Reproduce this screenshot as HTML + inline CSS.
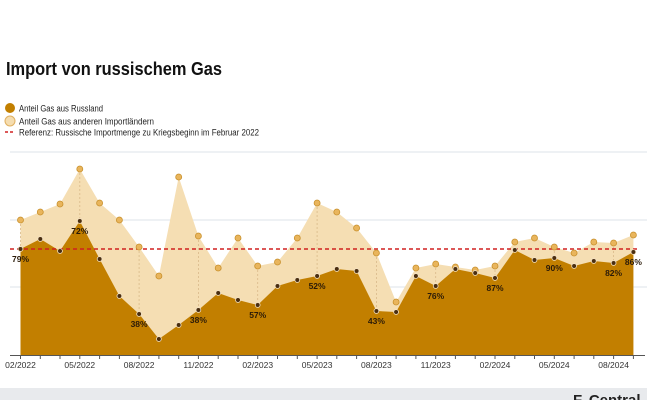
<!DOCTYPE html>
<html><head><meta charset="utf-8"><style>
body{margin:0;width:647px;height:400px;overflow:hidden;background:#fff;font-family:"Liberation Sans",sans-serif;}
</style></head><body>
<svg width="647" height="400" xmlns="http://www.w3.org/2000/svg" style="position:absolute;left:0;top:0">
<text x="6" y="75" font-size="18" font-weight="bold" fill="#111" textLength="216" lengthAdjust="spacingAndGlyphs">Import von russischem Gas</text>
<circle cx="10" cy="108" r="5" fill="#c27f00"/>
<text x="19" y="111.5" font-size="9" fill="#222" textLength="84" lengthAdjust="spacingAndGlyphs">Anteil Gas aus Russland</text>
<circle cx="10" cy="121" r="5" fill="#f5ddb0" stroke="#e0b060" stroke-width="1"/>
<text x="19" y="124.5" font-size="9" fill="#222" textLength="135" lengthAdjust="spacingAndGlyphs">Anteil Gas aus anderen Importländern</text>
<line x1="5" y1="132" x2="15" y2="132" stroke="#d02020" stroke-width="1.5" stroke-dasharray="3,2"/>
<text x="19" y="135.5" font-size="9" fill="#222" textLength="240" lengthAdjust="spacingAndGlyphs">Referenz: Russische Importmenge zu Kriegsbeginn im Februar 2022</text>
<g stroke="#dde3ea" stroke-width="1">
<line x1="10" y1="152" x2="647" y2="152"/><line x1="10" y1="220" x2="647" y2="220"/><line x1="10" y1="287" x2="647" y2="287"/>
</g>
<path fill="#f5deb3" d="M20.5,220 L40.3,212 L60,204 L79.8,169 L99.6,203 L119.4,220 L139.1,247 L158.9,276 L178.7,177 L198.4,236 L218.2,268 L238,238 L257.7,266 L277.5,262 L297.3,238 L317.1,203 L336.8,212 L356.6,228 L376.4,253 L396.1,302 L415.9,268 L435.7,264 L455.4,267 L475.2,270 L495,266 L514.8,242 L534.5,238 L554.3,247 L574.1,253 L593.8,242 L613.6,243 L633.4,235 L633.4,355 L20.5,355Z"/>
<path fill="#c27f00" d="M20.5,249 L40.3,239 L60,251 L79.8,221 L99.6,259 L119.4,296 L139.1,314 L158.9,339 L178.7,325 L198.4,310 L218.2,293 L238,300 L257.7,305 L277.5,286 L297.3,280 L317.1,276 L336.8,269 L356.6,271 L376.4,311 L396.1,312 L415.9,276 L435.7,286 L455.4,269 L475.2,273 L495,278 L514.8,250 L534.5,260 L554.3,258 L574.1,266 L593.8,261 L613.6,263 L633.4,252 L633.4,355 L20.5,355Z"/>
<g stroke="#d9b98a" stroke-width="0.8" stroke-dasharray="2,2">
<line x1="20.5" y1="220" x2="20.5" y2="249"/><line x1="79.8" y1="169" x2="79.8" y2="221"/><line x1="139.1" y1="247" x2="139.1" y2="314"/><line x1="198.4" y1="236" x2="198.4" y2="310"/><line x1="257.7" y1="266" x2="257.7" y2="305"/><line x1="317.1" y1="203" x2="317.1" y2="276"/><line x1="376.4" y1="253" x2="376.4" y2="311"/><line x1="435.7" y1="264" x2="435.7" y2="286"/><line x1="495" y1="266" x2="495" y2="278"/><line x1="554.3" y1="247" x2="554.3" y2="258"/><line x1="613.6" y1="243" x2="613.6" y2="263"/>
</g>
<line x1="10" y1="249" x2="640" y2="249" stroke="#d02020" stroke-width="1.6" stroke-dasharray="4,3"/>
<g fill="#e9b55c" stroke="#c8902c" stroke-width="0.8">
<circle cx="20.5" cy="220" r="3"/><circle cx="40.3" cy="212" r="3"/><circle cx="60" cy="204" r="3"/><circle cx="79.8" cy="169" r="3"/><circle cx="99.6" cy="203" r="3"/><circle cx="119.4" cy="220" r="3"/><circle cx="139.1" cy="247" r="3"/><circle cx="158.9" cy="276" r="3"/><circle cx="178.7" cy="177" r="3"/><circle cx="198.4" cy="236" r="3"/><circle cx="218.2" cy="268" r="3"/><circle cx="238" cy="238" r="3"/><circle cx="257.7" cy="266" r="3"/><circle cx="277.5" cy="262" r="3"/><circle cx="297.3" cy="238" r="3"/><circle cx="317.1" cy="203" r="3"/><circle cx="336.8" cy="212" r="3"/><circle cx="356.6" cy="228" r="3"/><circle cx="376.4" cy="253" r="3"/><circle cx="396.1" cy="302" r="3"/><circle cx="415.9" cy="268" r="3"/><circle cx="435.7" cy="264" r="3"/><circle cx="455.4" cy="267" r="3"/><circle cx="475.2" cy="270" r="3"/><circle cx="495" cy="266" r="3"/><circle cx="514.8" cy="242" r="3"/><circle cx="534.5" cy="238" r="3"/><circle cx="554.3" cy="247" r="3"/><circle cx="574.1" cy="253" r="3"/><circle cx="593.8" cy="242" r="3"/><circle cx="613.6" cy="243" r="3"/><circle cx="633.4" cy="235" r="3"/>
</g>
<g fill="#4a2e10" stroke="#f3e3c8" stroke-width="0.8">
<circle cx="20.5" cy="249" r="2.4"/><circle cx="40.3" cy="239" r="2.4"/><circle cx="60" cy="251" r="2.4"/><circle cx="79.8" cy="221" r="2.4"/><circle cx="99.6" cy="259" r="2.4"/><circle cx="119.4" cy="296" r="2.4"/><circle cx="139.1" cy="314" r="2.4"/><circle cx="158.9" cy="339" r="2.4"/><circle cx="178.7" cy="325" r="2.4"/><circle cx="198.4" cy="310" r="2.4"/><circle cx="218.2" cy="293" r="2.4"/><circle cx="238" cy="300" r="2.4"/><circle cx="257.7" cy="305" r="2.4"/><circle cx="277.5" cy="286" r="2.4"/><circle cx="297.3" cy="280" r="2.4"/><circle cx="317.1" cy="276" r="2.4"/><circle cx="336.8" cy="269" r="2.4"/><circle cx="356.6" cy="271" r="2.4"/><circle cx="376.4" cy="311" r="2.4"/><circle cx="396.1" cy="312" r="2.4"/><circle cx="415.9" cy="276" r="2.4"/><circle cx="435.7" cy="286" r="2.4"/><circle cx="455.4" cy="269" r="2.4"/><circle cx="475.2" cy="273" r="2.4"/><circle cx="495" cy="278" r="2.4"/><circle cx="514.8" cy="250" r="2.4"/><circle cx="534.5" cy="260" r="2.4"/><circle cx="554.3" cy="258" r="2.4"/><circle cx="574.1" cy="266" r="2.4"/><circle cx="593.8" cy="261" r="2.4"/><circle cx="613.6" cy="263" r="2.4"/><circle cx="633.4" cy="252" r="2.4"/>
</g>
<g font-size="8.5" font-weight="bold" fill="#2a1a08" text-anchor="middle">
<text x="20.5" y="262">79%</text><text x="79.8" y="234">72%</text><text x="139.1" y="327">38%</text><text x="198.4" y="323">38%</text><text x="257.7" y="318">57%</text><text x="317.1" y="289">52%</text><text x="376.4" y="324">43%</text><text x="435.7" y="299">76%</text><text x="495" y="291">87%</text><text x="554.3" y="271">90%</text><text x="613.6" y="276">82%</text><text x="633.4" y="265">86%</text>
</g>
<line x1="10" y1="355.5" x2="645" y2="355.5" stroke="#555" stroke-width="1"/>
<g stroke="#555" stroke-width="1">
<line x1="20.5" y1="355" x2="20.5" y2="359"/><line x1="40.3" y1="355" x2="40.3" y2="359"/><line x1="60" y1="355" x2="60" y2="359"/><line x1="79.8" y1="355" x2="79.8" y2="359"/><line x1="99.6" y1="355" x2="99.6" y2="359"/><line x1="119.4" y1="355" x2="119.4" y2="359"/><line x1="139.1" y1="355" x2="139.1" y2="359"/><line x1="158.9" y1="355" x2="158.9" y2="359"/><line x1="178.7" y1="355" x2="178.7" y2="359"/><line x1="198.4" y1="355" x2="198.4" y2="359"/><line x1="218.2" y1="355" x2="218.2" y2="359"/><line x1="238" y1="355" x2="238" y2="359"/><line x1="257.7" y1="355" x2="257.7" y2="359"/><line x1="277.5" y1="355" x2="277.5" y2="359"/><line x1="297.3" y1="355" x2="297.3" y2="359"/><line x1="317.1" y1="355" x2="317.1" y2="359"/><line x1="336.8" y1="355" x2="336.8" y2="359"/><line x1="356.6" y1="355" x2="356.6" y2="359"/><line x1="376.4" y1="355" x2="376.4" y2="359"/><line x1="396.1" y1="355" x2="396.1" y2="359"/><line x1="415.9" y1="355" x2="415.9" y2="359"/><line x1="435.7" y1="355" x2="435.7" y2="359"/><line x1="455.4" y1="355" x2="455.4" y2="359"/><line x1="475.2" y1="355" x2="475.2" y2="359"/><line x1="495" y1="355" x2="495" y2="359"/><line x1="514.8" y1="355" x2="514.8" y2="359"/><line x1="534.5" y1="355" x2="534.5" y2="359"/><line x1="554.3" y1="355" x2="554.3" y2="359"/><line x1="574.1" y1="355" x2="574.1" y2="359"/><line x1="593.8" y1="355" x2="593.8" y2="359"/><line x1="613.6" y1="355" x2="613.6" y2="359"/><line x1="633.4" y1="355" x2="633.4" y2="359"/>
</g>
<g font-size="8.5" fill="#333" text-anchor="middle">
<text x="20.5" y="368">02/2022</text><text x="79.8" y="368">05/2022</text><text x="139.1" y="368">08/2022</text><text x="198.4" y="368">11/2022</text><text x="257.7" y="368">02/2023</text><text x="317.1" y="368">05/2023</text><text x="376.4" y="368">08/2023</text><text x="435.7" y="368">11/2023</text><text x="495" y="368">02/2024</text><text x="554.3" y="368">05/2024</text><text x="613.6" y="368">08/2024</text>
</g>
<rect x="0" y="388" width="647" height="12" fill="#e8eaed"/>
<text x="573" y="405" font-size="15" font-weight="bold" fill="#222">F. Central</text>
</svg>
</body></html>
